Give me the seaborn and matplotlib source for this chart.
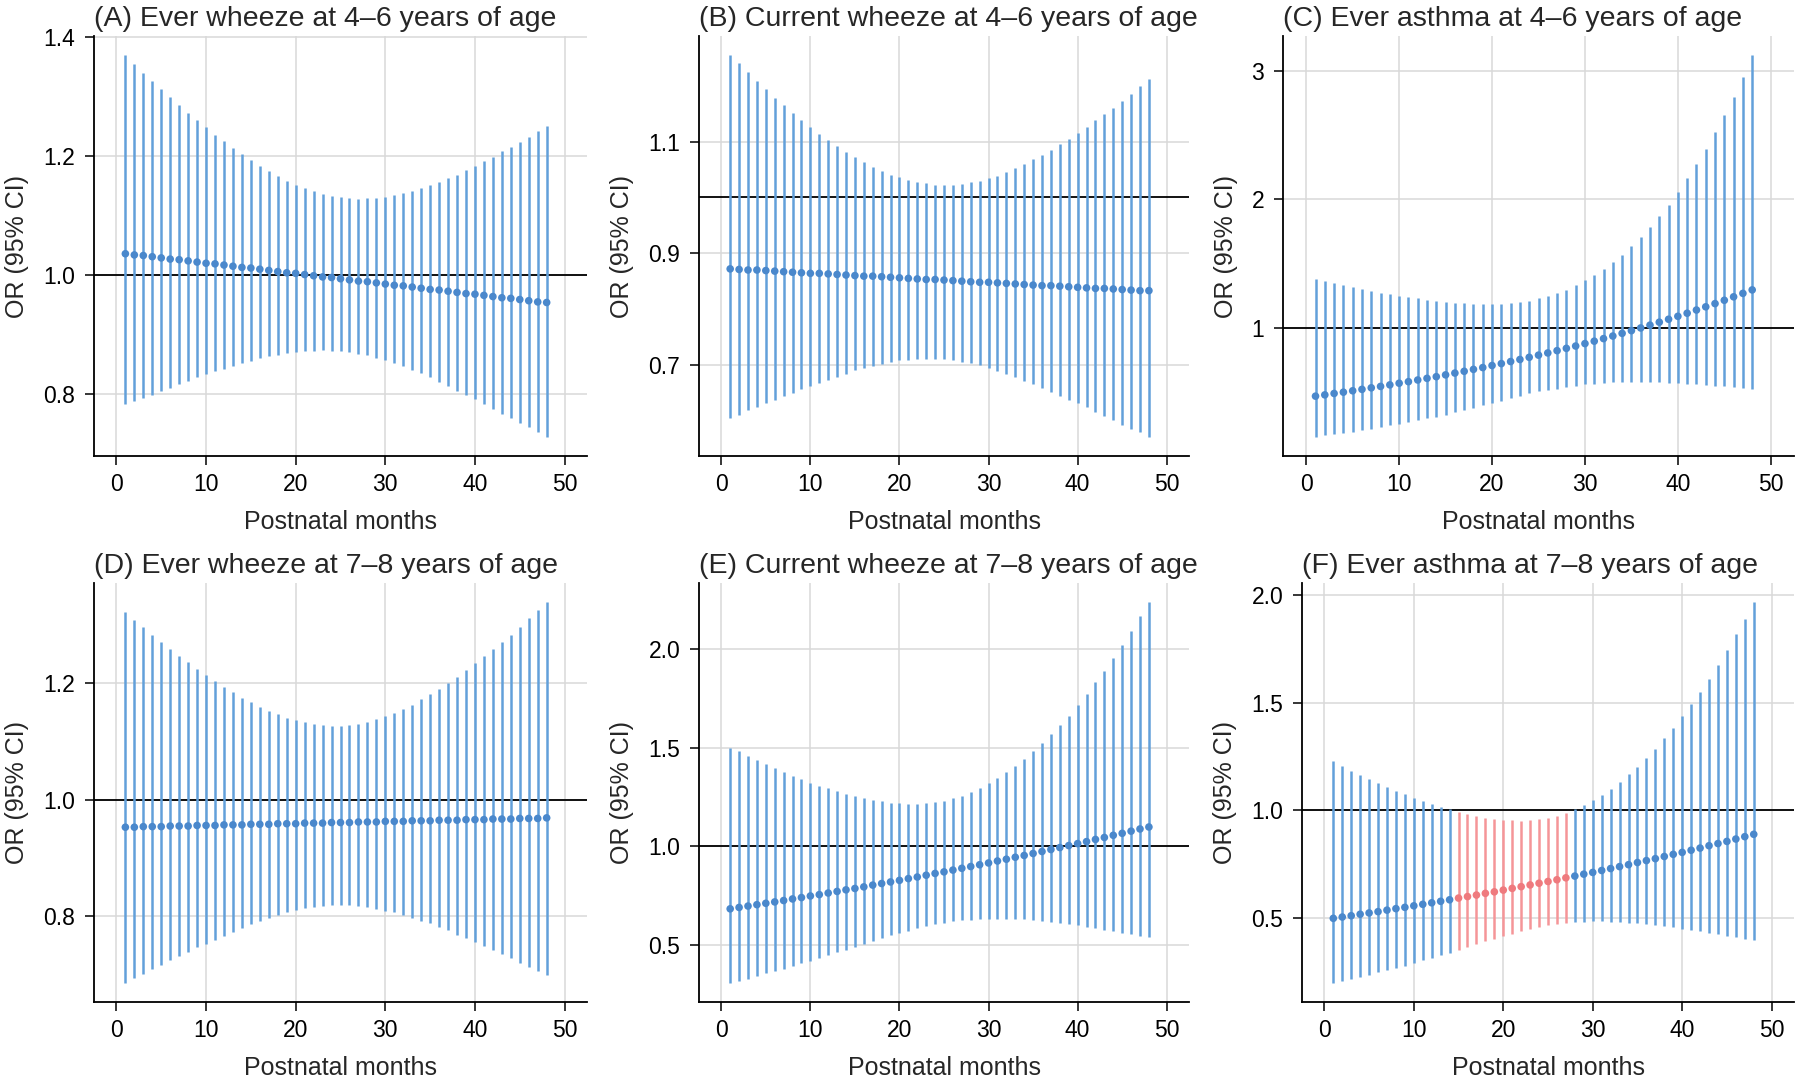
import numpy as np
import pandas as pd
import seaborn as sns
import matplotlib.pyplot as plt

months = list(range(1, 49))

# (A) ever wheeze 4-6
a_est = [1.036, 1.034, 1.033, 1.031, 1.029, 1.027, 1.026, 1.024, 1.022, 1.020,
         1.019, 1.017, 1.015, 1.013, 1.012, 1.010, 1.008, 1.006, 1.004, 1.003,
         1.001, 0.999, 0.997, 0.996, 0.994, 0.992, 0.990, 0.989, 0.987, 0.985,
         0.983, 0.982, 0.980, 0.978, 0.976, 0.975, 0.973, 0.971, 0.969, 0.968,
         0.966, 0.964, 0.962, 0.961, 0.959, 0.957, 0.955, 0.954]
a_hi = [1.370, 1.355, 1.340, 1.327, 1.313, 1.299, 1.286, 1.273, 1.261, 1.249,
        1.236, 1.225, 1.214, 1.203, 1.193, 1.183, 1.175, 1.166, 1.159, 1.152,
        1.146, 1.141, 1.136, 1.133, 1.131, 1.129, 1.128, 1.129, 1.130, 1.132,
        1.135, 1.138, 1.142, 1.147, 1.151, 1.157, 1.164, 1.169, 1.177, 1.184,
        1.192, 1.199, 1.208, 1.215, 1.224, 1.232, 1.242, 1.250]
a_lo = [0.783, 0.788, 0.794, 0.799, 0.805, 0.811, 0.817, 0.822, 0.828, 0.833,
        0.838, 0.843, 0.847, 0.852, 0.856, 0.860, 0.864, 0.866, 0.869, 0.871,
        0.873, 0.873, 0.874, 0.873, 0.872, 0.871, 0.868, 0.865, 0.861, 0.857,
        0.852, 0.847, 0.841, 0.835, 0.828, 0.821, 0.813, 0.806, 0.799, 0.791,
        0.783, 0.775, 0.767, 0.760, 0.752, 0.744, 0.736, 0.728]

# (B) current wheeze 4-6
b_est = [0.872, 0.871, 0.870, 0.870, 0.869, 0.868, 0.867, 0.866, 0.865, 0.864,
         0.864, 0.863, 0.862, 0.861, 0.860, 0.859, 0.859, 0.858, 0.857, 0.856,
         0.855, 0.854, 0.853, 0.853, 0.852, 0.851, 0.850, 0.849, 0.848, 0.848,
         0.847, 0.846, 0.845, 0.844, 0.843, 0.842, 0.842, 0.841, 0.840, 0.839,
         0.838, 0.837, 0.837, 0.836, 0.835, 0.834, 0.833, 0.833]
b_hi = [1.255, 1.240, 1.224, 1.209, 1.194, 1.179, 1.165, 1.152, 1.139, 1.127,
        1.114, 1.103, 1.092, 1.082, 1.072, 1.063, 1.055, 1.047, 1.041, 1.036,
        1.031, 1.027, 1.025, 1.023, 1.022, 1.023, 1.024, 1.027, 1.030, 1.035,
        1.039, 1.046, 1.052, 1.060, 1.068, 1.076, 1.085, 1.095, 1.105, 1.116,
        1.126, 1.138, 1.149, 1.161, 1.173, 1.186, 1.199, 1.212]
b_lo = [0.605, 0.611, 0.619, 0.624, 0.631, 0.638, 0.644, 0.649, 0.656, 0.662,
        0.668, 0.673, 0.679, 0.684, 0.690, 0.694, 0.698, 0.702, 0.705, 0.708,
        0.709, 0.710, 0.710, 0.710, 0.710, 0.708, 0.706, 0.703, 0.699, 0.694,
        0.689, 0.684, 0.678, 0.672, 0.666, 0.659, 0.652, 0.645, 0.638, 0.631,
        0.624, 0.616, 0.609, 0.601, 0.593, 0.586, 0.579, 0.571]

# (C) ever asthma 4-6
c_est = [0.465, 0.475, 0.486, 0.496, 0.507, 0.518, 0.530, 0.541, 0.553, 0.566,
         0.578, 0.591, 0.604, 0.617, 0.631, 0.645, 0.659, 0.674, 0.688, 0.704,
         0.719, 0.735, 0.751, 0.768, 0.785, 0.802, 0.820, 0.838, 0.856, 0.875,
         0.894, 0.914, 0.934, 0.955, 0.976, 0.997, 1.019, 1.042, 1.065, 1.088,
         1.112, 1.137, 1.162, 1.187, 1.213, 1.240, 1.267, 1.294]
c_hi = [1.377, 1.361, 1.345, 1.332, 1.318, 1.302, 1.286, 1.273, 1.259, 1.249,
        1.238, 1.227, 1.217, 1.206, 1.198, 1.193, 1.190, 1.184, 1.184, 1.184,
        1.184, 1.190, 1.198, 1.209, 1.227, 1.246, 1.267, 1.294, 1.329, 1.369,
        1.412, 1.457, 1.511, 1.570, 1.636, 1.709, 1.786, 1.869, 1.960, 2.059,
        2.166, 2.278, 2.393, 2.524, 2.660, 2.799, 2.957, 3.126]
c_lo = [0.147, 0.158, 0.166, 0.176, 0.187, 0.201, 0.211, 0.225, 0.238, 0.251,
        0.262, 0.278, 0.291, 0.305, 0.321, 0.340, 0.358, 0.374, 0.393, 0.412,
        0.430, 0.447, 0.468, 0.487, 0.503, 0.513, 0.524, 0.535, 0.545, 0.556,
        0.561, 0.570, 0.572, 0.575, 0.575, 0.575, 0.572, 0.572, 0.567, 0.564,
        0.561, 0.556, 0.553, 0.548, 0.543, 0.537, 0.532, 0.524]

# (D) ever wheeze 7-8
d_est = [0.953, 0.953, 0.954, 0.954, 0.954, 0.955, 0.955, 0.955, 0.956, 0.956,
         0.956, 0.957, 0.957, 0.957, 0.958, 0.958, 0.958, 0.959, 0.959, 0.959,
         0.960, 0.960, 0.960, 0.961, 0.961, 0.961, 0.962, 0.962, 0.962, 0.963,
         0.963, 0.963, 0.964, 0.964, 0.964, 0.965, 0.965, 0.965, 0.966, 0.966,
         0.966, 0.967, 0.967, 0.967, 0.968, 0.968, 0.968, 0.969]
d_hi = [1.322, 1.309, 1.296, 1.283, 1.271, 1.259, 1.247, 1.236, 1.224, 1.214,
        1.203, 1.193, 1.184, 1.175, 1.167, 1.159, 1.153, 1.147, 1.141, 1.136,
        1.133, 1.130, 1.128, 1.127, 1.127, 1.128, 1.130, 1.134, 1.138, 1.143,
        1.149, 1.156, 1.163, 1.172, 1.181, 1.190, 1.201, 1.211, 1.222, 1.234,
        1.246, 1.258, 1.270, 1.283, 1.297, 1.311, 1.325, 1.339]
d_lo = [0.686, 0.695, 0.702, 0.710, 0.717, 0.725, 0.732, 0.739, 0.747, 0.753,
        0.760, 0.767, 0.774, 0.780, 0.787, 0.792, 0.798, 0.802, 0.807, 0.811,
        0.814, 0.817, 0.818, 0.820, 0.820, 0.819, 0.818, 0.816, 0.813, 0.810,
        0.807, 0.802, 0.798, 0.793, 0.788, 0.782, 0.776, 0.769, 0.763, 0.756,
        0.750, 0.743, 0.736, 0.728, 0.721, 0.714, 0.707, 0.700]

# (E) current wheeze 7-8
e_est = [0.684, 0.691, 0.698, 0.705, 0.712, 0.719, 0.726, 0.734, 0.741, 0.749,
         0.756, 0.764, 0.772, 0.780, 0.787, 0.795, 0.804, 0.812, 0.820, 0.828,
         0.837, 0.845, 0.854, 0.863, 0.871, 0.880, 0.889, 0.898, 0.907, 0.916,
         0.926, 0.935, 0.945, 0.954, 0.964, 0.974, 0.984, 0.994, 1.004, 1.014,
         1.024, 1.035, 1.045, 1.056, 1.066, 1.077, 1.088, 1.098]
e_hi = [1.499, 1.480, 1.456, 1.437, 1.416, 1.396, 1.375, 1.356, 1.339, 1.323,
        1.307, 1.293, 1.279, 1.265, 1.253, 1.243, 1.234, 1.227, 1.220, 1.217,
        1.215, 1.215, 1.217, 1.224, 1.230, 1.243, 1.257, 1.276, 1.295, 1.320,
        1.346, 1.375, 1.405, 1.444, 1.482, 1.522, 1.567, 1.613, 1.662, 1.716,
        1.770, 1.829, 1.889, 1.952, 2.020, 2.088, 2.163, 2.236]
e_lo = [0.309, 0.319, 0.331, 0.343, 0.357, 0.370, 0.380, 0.394, 0.408, 0.422,
        0.436, 0.452, 0.464, 0.478, 0.492, 0.506, 0.520, 0.536, 0.550, 0.562,
        0.574, 0.586, 0.597, 0.605, 0.612, 0.621, 0.626, 0.630, 0.633, 0.635,
        0.635, 0.635, 0.633, 0.632, 0.628, 0.623, 0.618, 0.611, 0.605, 0.600,
        0.593, 0.586, 0.577, 0.570, 0.563, 0.555, 0.548, 0.539]

# (F) ever asthma 7-8
f_est = [0.499, 0.505, 0.511, 0.518, 0.524, 0.530, 0.537, 0.544, 0.550, 0.557,
         0.564, 0.571, 0.578, 0.585, 0.593, 0.600, 0.607, 0.615, 0.622, 0.630,
         0.638, 0.646, 0.654, 0.662, 0.670, 0.678, 0.687, 0.695, 0.704, 0.712,
         0.721, 0.730, 0.739, 0.748, 0.758, 0.767, 0.776, 0.786, 0.796, 0.805,
         0.815, 0.825, 0.836, 0.846, 0.856, 0.867, 0.878, 0.889]
f_hi = [1.228, 1.205, 1.184, 1.165, 1.146, 1.128, 1.107, 1.091, 1.074, 1.059,
        1.045, 1.030, 1.018, 1.005, 0.992, 0.982, 0.973, 0.966, 0.961, 0.957,
        0.955, 0.953, 0.957, 0.960, 0.966, 0.974, 0.987, 1.006, 1.024, 1.048,
        1.072, 1.099, 1.133, 1.167, 1.202, 1.244, 1.287, 1.334, 1.383, 1.436,
        1.492, 1.549, 1.611, 1.677, 1.744, 1.817, 1.890, 1.967]
f_lo = [0.199, 0.209, 0.219, 0.228, 0.238, 0.248, 0.257, 0.267, 0.278, 0.291,
        0.304, 0.315, 0.328, 0.339, 0.352, 0.365, 0.379, 0.392, 0.405, 0.418,
        0.427, 0.438, 0.450, 0.458, 0.467, 0.474, 0.479, 0.482, 0.483, 0.485,
        0.485, 0.483, 0.482, 0.479, 0.475, 0.472, 0.467, 0.463, 0.458, 0.451,
        0.445, 0.438, 0.432, 0.426, 0.419, 0.411, 0.405, 0.397]

titles = ['(A) Ever wheeze at 4\u20136 years of age',
          '(B) Current wheeze at 4\u20136 years of age',
          '(C) Ever asthma at 4\u20136 years of age',
          '(D) Ever wheeze at 7\u20138 years of age',
          '(E) Current wheeze at 7\u20138 years of age',
          '(F) Ever asthma at 7\u20138 years of age']
yticks = [[0.8, 1.0, 1.2, 1.4],
          [0.7, 0.9, 1.1],
          [1, 2, 3],
          [0.8, 1.0, 1.2],
          [0.5, 1.0, 1.5, 2.0],
          [0.5, 1.0, 1.5, 2.0]]
ytick_labels = [['0.8', '1.0', '1.2', '1.4'],
                ['0.7', '0.9', '1.1'],
                ['1', '2', '3'],
                ['0.8', '1.0', '1.2'],
                ['0.5', '1.0', '1.5', '2.0'],
                ['0.5', '1.0', '1.5', '2.0']]
xticks = [0, 10, 20, 30, 40, 50]

series = [(a_est, a_lo, a_hi), (b_est, b_lo, b_hi), (c_est, c_lo, c_hi),
          (d_est, d_lo, d_hi), (e_est, e_lo, e_hi), (f_est, f_lo, f_hi)]

sns.set_theme(style='whitegrid')
plt.rcParams['font.family'] = ['Liberation Sans', 'DejaVu Sans']

blue_line, blue_pt = '#62a0da', '#4a88cc'
red_line, red_pt = '#f59598', '#ef7a7e'

fig = plt.figure(figsize=(18, 10.84), dpi=100)
W, H = 1800, 1084
# axes boxes in pixels: left, top, right, bottom
boxes = [(94, 36, 587, 456), (699, 36, 1189, 456), (1283, 36, 1794, 456),
         (94, 583, 587, 1002), (699, 583, 1189, 1002), (1302, 583, 1794, 1002)]

for i, (est, lo, hi) in enumerate(series):
    l, t, r, b = boxes[i]
    ax = fig.add_axes([l / W, (H - b) / H, (r - l) / W, (b - t) / H])
    df = pd.DataFrame({'month': months, 'est': est, 'lo': lo, 'hi': hi})
    df['sig'] = df['hi'] < 1  # CI entirely below 1

    ax.axhline(1, color='black', lw=1.3, zorder=1)
    line_cols = np.where(df['sig'], red_line, blue_line)
    ax.vlines(df['month'], df['lo'], df['hi'], colors=line_cols, lw=1.8, zorder=2)
    sns.scatterplot(data=df, x='month', y='est', hue='sig',
                    palette={False: blue_pt, True: red_pt}, s=30, linewidth=0,
                    legend=False, ax=ax, zorder=3)

    ax.set_xlim(-2.5, 52.5)
    ax.margins(y=0.05)
    ax.set_xticks(xticks)
    ax.set_yticks(yticks[i])
    ax.set_yticklabels(ytick_labels[i])
    ax.set_title(titles[i], loc='left', fontsize=20.5, pad=7)
    ax.set_xlabel('Postnatal months', fontsize=18, labelpad=10)
    ax.set_ylabel('OR (95% CI)', fontsize=18, labelpad=10)

    ax.grid(True, color='#d9d9d9', lw=1.1)
    ax.set_facecolor('white')
    for side in ['top', 'right']:
        ax.spines[side].set_visible(False)
    for side in ['left', 'bottom']:
        ax.spines[side].set_visible(True)
        ax.spines[side].set_color('black')
        ax.spines[side].set_linewidth(1.3)
    ax.tick_params(axis='both', which='major', length=6.5, width=1.1, color='black',
                   labelsize=16.5, labelcolor='black', bottom=True, left=True)
    ax.tick_params(axis='x', pad=6)
    ax.tick_params(axis='y', pad=7)

fig.savefig('out.png', dpi=100, facecolor='white')
